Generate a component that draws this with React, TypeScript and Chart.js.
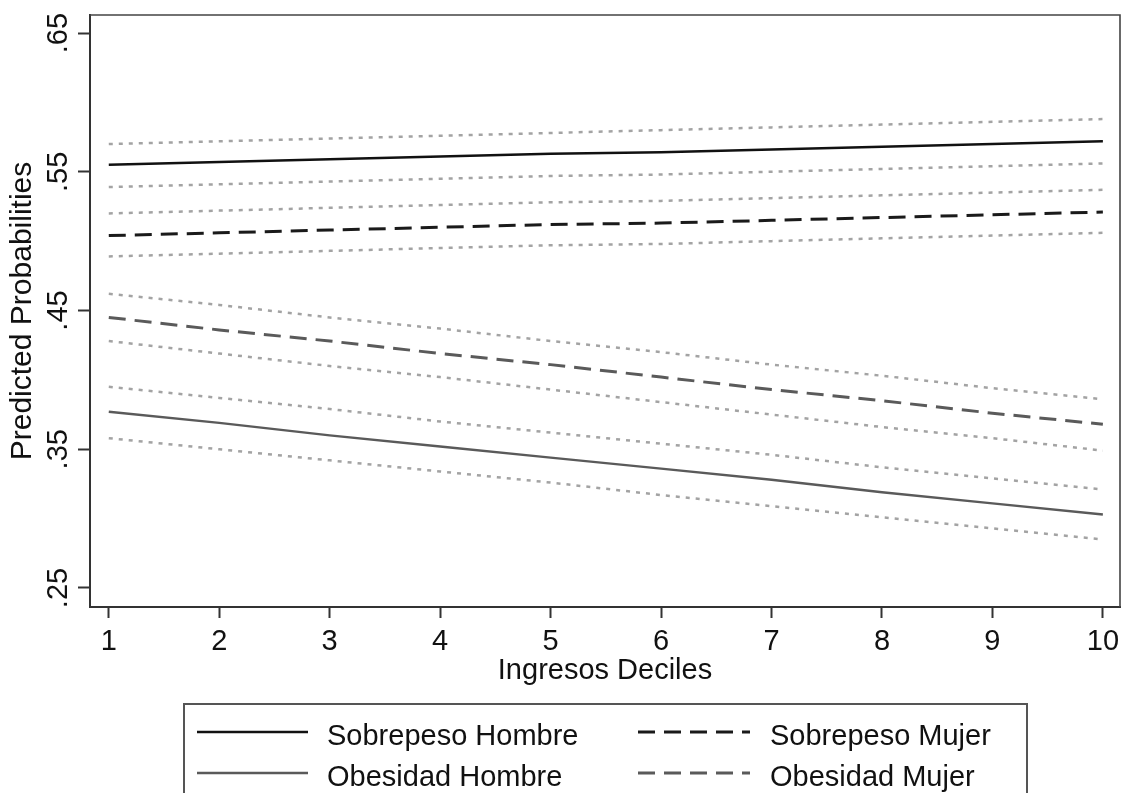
import React, { useEffect, useRef } from "react";
import { Chart, registerables } from "chart.js";

Chart.register(...registerables);

// ---------- data ----------
const deciles = [1, 2, 3, 4, 5, 6, 7, 8, 9, 10];
const xTickValues = [1, 2, 3, 4, 5, 6, 7, 8, 9, 10];
const yTickValues = [0.25, 0.35, 0.45, 0.55, 0.65];
const yTickLabels = [".25", ".35", ".45", ".55", ".65"];

const sobrepesoHombre = [0.555, 0.557, 0.559, 0.561, 0.563, 0.564, 0.566, 0.568, 0.570, 0.572];
const sobrepesoHombreHi = [0.570, 0.572, 0.574, 0.576, 0.578, 0.580, 0.582, 0.584, 0.586, 0.588];
const sobrepesoHombreLo = [0.539, 0.541, 0.543, 0.545, 0.547, 0.548, 0.550, 0.552, 0.554, 0.556];

const sobrepesoMujer = [0.504, 0.506, 0.508, 0.510, 0.512, 0.513, 0.515, 0.517, 0.519, 0.521];
const sobrepesoMujerHi = [0.520, 0.522, 0.524, 0.526, 0.528, 0.529, 0.531, 0.533, 0.535, 0.537];
const sobrepesoMujerLo = [0.489, 0.491, 0.493, 0.495, 0.497, 0.498, 0.500, 0.502, 0.504, 0.506];

const obesidadMujer = [0.445, 0.436, 0.428, 0.419, 0.411, 0.402, 0.393, 0.385, 0.376, 0.368];
const obesidadMujerHi = [0.462, 0.454, 0.445, 0.437, 0.428, 0.420, 0.411, 0.403, 0.394, 0.386];
const obesidadMujerLo = [0.428, 0.419, 0.410, 0.402, 0.393, 0.384, 0.375, 0.366, 0.358, 0.349];

const obesidadHombre = [0.377, 0.369, 0.360, 0.352, 0.344, 0.336, 0.328, 0.319, 0.311, 0.303];
const obesidadHombreHi = [0.395, 0.387, 0.379, 0.370, 0.362, 0.354, 0.346, 0.337, 0.329, 0.321];
const obesidadHombreLo = [0.358, 0.350, 0.342, 0.334, 0.326, 0.317, 0.309, 0.301, 0.293, 0.285];

const seriesLabels = ["Sobrepeso Hombre", "Sobrepeso Mujer", "Obesidad Hombre", "Obesidad Mujer"];
const xTitle = "Ingresos Deciles";
const yTitle = "Predicted Probabilities";

// ---------- styles ----------
const FONT = '"Liberation Sans", Arial, Helvetica, sans-serif';
const TEXT = "#111111";
const AXIS = "#333333";
const CI_COLOR = "#a3a3a3";
const CI_DASH = [4, 6];
const LONG_DASH = [17, 9];

const toPts = (arr: number[]) => deciles.map((d, i) => ({ x: d, y: arr[i] }));

const mainStyles: Record<string, { color: string; width: number; dash: number[] }> = {
  "Sobrepeso Hombre": { color: "#111111", width: 2.5, dash: [] },
  "Sobrepeso Mujer": { color: "#1a1a1a", width: 3, dash: LONG_DASH },
  "Obesidad Hombre": { color: "#5a5a5a", width: 2.4, dash: [] },
  "Obesidad Mujer": { color: "#5a5a5a", width: 3, dash: LONG_DASH },
};

const mainLine = (label: string, arr: number[]) => ({
  label,
  data: toPts(arr),
  borderColor: mainStyles[label].color,
  borderWidth: mainStyles[label].width,
  borderDash: mainStyles[label].dash,
  borderCapStyle: "butt" as const,
  pointRadius: 0,
  tension: 0,
  fill: false,
});

const ciLine = (arr: number[]) => ({
  label: "",
  data: toPts(arr),
  borderColor: CI_COLOR,
  borderWidth: 2.5,
  borderDash: CI_DASH,
  borderCapStyle: "butt" as const,
  pointRadius: 0,
  tension: 0,
  fill: false,
});

const framePlugin = {
  id: "frameAndLegend",
  afterDraw(chart: any) {
    const { ctx, chartArea: a, scales } = chart;
    ctx.save();
    // top & right frame
    ctx.strokeStyle = "#444444";
    ctx.lineWidth = 1.6;
    ctx.setLineDash([]);
    ctx.beginPath();
    ctx.moveTo(a.left, a.top);
    ctx.lineTo(a.right, a.top);
    ctx.lineTo(a.right, a.bottom);
    ctx.stroke();

    // rotated y tick labels
    ctx.font = `29px ${FONT}`;
    ctx.fillStyle = TEXT;
    ctx.textAlign = "center";
    ctx.textBaseline = "alphabetic";
    yTickValues.forEach((v, i) => {
      const py = scales.y.getPixelForValue(v);
      ctx.save();
      ctx.translate(a.left - 23, py);
      ctx.rotate(-Math.PI / 2);
      ctx.fillText(yTickLabels[i], 0, 0);
      ctx.restore();
    });

    // legend box
    const boxL = 184, boxT = 704, boxR = 1027;
    ctx.strokeStyle = "#555555";
    ctx.lineWidth = 2;
    ctx.strokeRect(boxL, boxT, boxR - boxL, 140);

    const cols = [{ x0: 197, x1: 308, tx: 327 }, { x0: 638, x1: 750, tx: 770 }];
    const rows = [732, 773];
    const order = [
      ["Sobrepeso Hombre", "Sobrepeso Mujer"],
      ["Obesidad Hombre", "Obesidad Mujer"],
    ];
    order.forEach((row, ri) => {
      row.forEach((lab, ci) => {
        const st = mainStyles[lab];
        const c = cols[ci];
        const y = rows[ri];
        ctx.strokeStyle = st.color;
        ctx.lineWidth = st.width;
        ctx.setLineDash(st.dash);
        ctx.lineCap = "butt";
        ctx.beginPath();
        ctx.moveTo(c.x0, y);
        ctx.lineTo(c.x1, y);
        ctx.stroke();
        ctx.setLineDash([]);
        ctx.fillStyle = TEXT;
        ctx.textAlign = "left";
        ctx.textBaseline = "alphabetic";
        ctx.font = `29px ${FONT}`;
        ctx.fillText(lab, c.tx, y + 12.5);
      });
    });
    ctx.restore();
  },
};

export default function App() {
  const canvasRef = useRef<HTMLCanvasElement | null>(null);

  useEffect(() => {
    document.body.style.margin = "0";
    const canvas = canvasRef.current;
    if (!canvas) return;
    const chart = new Chart(canvas, {
      type: "line",
      data: {
        datasets: [
          ciLine(sobrepesoHombreHi),
          ciLine(sobrepesoHombreLo),
          ciLine(sobrepesoMujerHi),
          ciLine(sobrepesoMujerLo),
          ciLine(obesidadMujerHi),
          ciLine(obesidadMujerLo),
          ciLine(obesidadHombreHi),
          ciLine(obesidadHombreLo),
          mainLine(seriesLabels[0], sobrepesoHombre),
          mainLine(seriesLabels[1], sobrepesoMujer),
          mainLine(seriesLabels[2], obesidadHombre),
          mainLine(seriesLabels[3], obesidadMujer),
        ] as any,
      },
      options: {
        responsive: false,
        animation: false,
        devicePixelRatio: 1,
        layout: { padding: { top: 15, right: 2, left: 0, bottom: 0 } },
        plugins: {
          legend: { display: false },
          tooltip: { enabled: false },
        },
        scales: {
          x: {
            type: "linear",
            min: 0.83,
            max: 10.155,
            afterBuildTicks: (scale: any) => {
              scale.ticks = xTickValues.map((v) => ({ value: v }));
            },
            afterFit: (scale: any) => {
              scale.height = 186;
              scale.paddingLeft = 0;
              scale.paddingRight = 0;
            },
            grid: {
              display: true,
              drawOnChartArea: false,
              drawTicks: true,
              tickLength: 11,
              tickColor: AXIS,
              tickWidth: 2,
            },
            border: { display: true, color: AXIS, width: 2 },
            ticks: {
              font: { family: FONT, size: 29 },
              color: TEXT,
              padding: 7,
              maxRotation: 0,
              minRotation: 0,
              autoSkip: false,
              callback: (v: any) => String(v),
            },
            title: {
              display: true,
              text: xTitle,
              font: { family: FONT, size: 29 },
              color: TEXT,
              padding: { top: 0, bottom: 105 },
            },
          },
          y: {
            type: "linear",
            min: 0.2363,
            max: 0.663,
            afterBuildTicks: (scale: any) => {
              scale.ticks = yTickValues.map((v) => ({ value: v }));
            },
            afterFit: (scale: any) => {
              scale.width = 90;
              scale.paddingTop = 0;
              scale.paddingBottom = 0;
            },
            grid: {
              display: true,
              drawOnChartArea: false,
              drawTicks: true,
              tickLength: 12,
              tickColor: AXIS,
              tickWidth: 2,
            },
            border: { display: true, color: AXIS, width: 2 },
            ticks: { display: false },
            title: {
              display: true,
              text: yTitle,
              font: { family: FONT, size: 30 },
              color: TEXT,
              padding: { top: 4.5, bottom: 0 },
            },
          },
        },
      },
      plugins: [framePlugin],
    } as any);
    return () => chart.destroy();
  }, []);

  return (
    <div style={{ width: 1122, height: 793, background: "#ffffff" }}>
      <canvas ref={canvasRef} width={1122} height={793} style={{ display: "block" }} />
    </div>
  );
}
